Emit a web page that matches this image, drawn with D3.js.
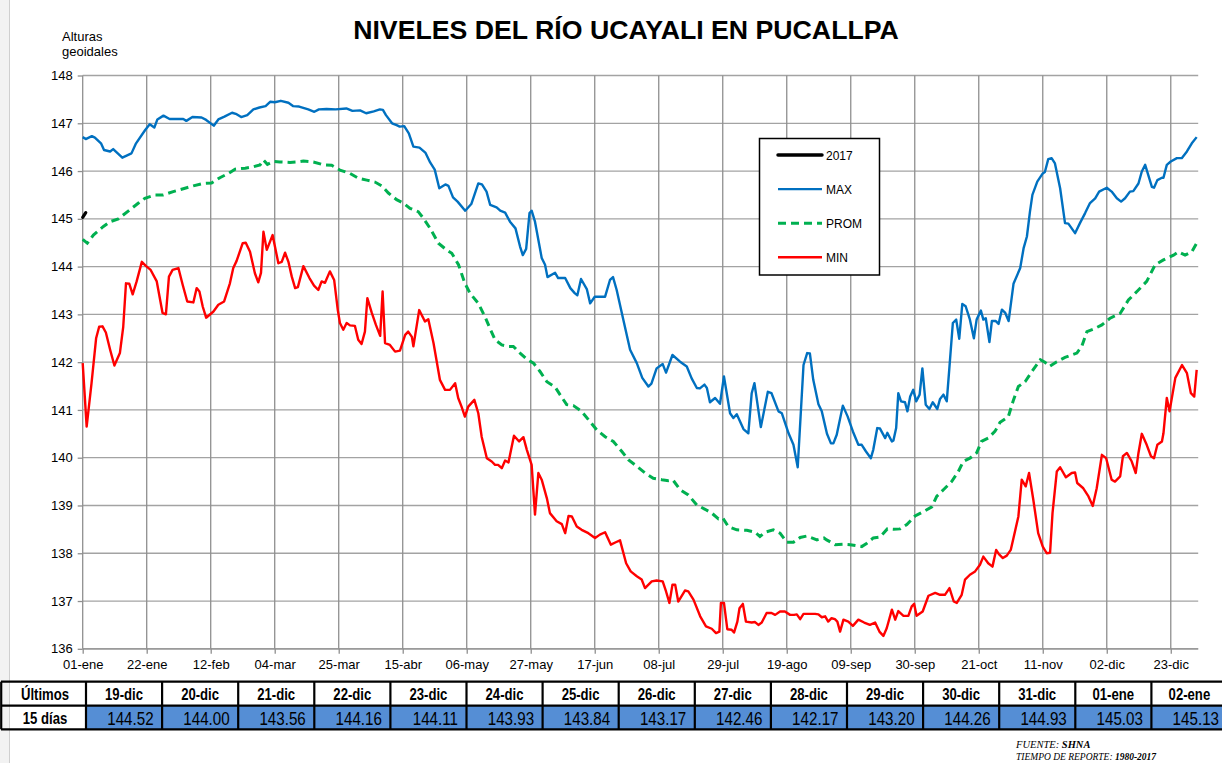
<!DOCTYPE html>
<html><head><meta charset="utf-8">
<script src="https://cdn.jsdelivr.net/npm/d3@7"></script>
<style>body{margin:0;background:#fff;} svg{display:block;font-family:"Liberation Sans",Arial,sans-serif;}</style>
</head><body><svg id="c" width="1222" height="763"></svg>
<script>
// ---- data ----
const xTickDays = [0,21,42,63,84,105,126,147,168,189,210,231,252,273,294,315,336,357];
const xTickLabels = ["01-ene","22-ene","12-feb","04-mar","25-mar","15-abr","06-may","27-may","17-jun","08-jul","29-jul","19-ago","09-sep","30-sep","21-oct","11-nov","02-dic","23-dic"];
const yTicks = [136,137,138,139,140,141,142,143,144,145,146,147,148];

const y2017Days = [0,1];
const y2017Vals = [145.03,145.13];

const maxDays = [0,1,3,4,6,7,9,10,13,16,17.5,20.5,22,23.5,24.5,26.5,28.5,33,34,36,39,40.5,43,44.5,46.5,49,50.5,52,54,56,58,60,61.5,63,65,67.5,69,71,74,76,77.5,80,83,86.5,88.5,91,93,95.5,97.5,98.5,99.5,101.5,103,104,105.5,107,108.5,110.5,112.5,114,115.5,117,119,120,121.5,123,125.5,127.5,129.8,131,132.5,133.7,135.8,137,138.6,140.2,142,143.5,144.4,145.5,146.6,147.3,148.4,150.6,151.7,152.5,155,156,158.3,160,161.5,162.3,163.5,165.4,166.5,168,171.4,173,174,175.2,177.4,179.6,181.8,183.6,185.6,186.6,188.3,190.3,191.4,193.5,196,198.2,199.8,201.5,202.5,204,204.8,205.8,207.5,209.1,210.4,212.4,213.5,214.6,216.8,218.4,219.5,220.4,222.5,224.8,226,228.3,229.4,231.6,233.2,234.6,236.5,237.7,238.6,239.7,241.4,242.5,244.2,245.5,246.3,247.4,249.4,251,252.7,254.5,255.6,257,258.6,259.4,260.7,261.6,263.3,264,265.5,266,266.9,267.6,268.5,269.8,270.6,271.5,272.5,273.5,274.6,275.5,276.6,277.8,278.9,280.4,281.3,282.4,283.5,284.4,285.5,286.6,287.6,288.6,289.7,291.1,292.4,293.3,294.7,295.5,296.3,297.5,298.3,299.6,300.5,301.6,302.7,303.8,305.4,307.6,308.7,309.8,310.8,311.6,313.2,315,315.7,316.8,317.9,319,320.7,322.3,323.4,325.6,327.2,328.9,330.5,332.2,333.5,336,337.6,339.3,340.7,342,343.6,344.7,346.4,347.5,348.6,349.6,350.8,351.5,352.6,354.1,354.6,355.7,357,359,360.6,362.3,363.9,365.5];
const maxVals = [146.71,146.67,146.73,146.70,146.58,146.44,146.41,146.46,146.28,146.37,146.58,146.86,146.98,146.91,147.08,147.16,147.09,147.09,147.05,147.13,147.12,147.07,146.95,147.08,147.14,147.22,147.19,147.13,147.17,147.29,147.33,147.36,147.45,147.44,147.47,147.43,147.36,147.35,147.29,147.24,147.29,147.30,147.29,147.31,147.26,147.27,147.21,147.25,147.29,147.28,147.17,147.00,146.96,146.93,146.94,146.79,146.51,146.49,146.38,146.18,146.03,145.64,145.72,145.69,145.45,145.36,145.17,145.31,145.74,145.72,145.57,145.29,145.24,145.17,145.13,144.94,144.80,144.42,144.24,144.37,145.12,145.17,144.94,144.18,144.04,143.78,143.87,143.76,143.76,143.55,143.44,143.40,143.74,143.53,143.23,143.37,143.37,143.72,143.78,143.51,142.88,142.26,141.98,141.67,141.49,141.55,141.87,141.96,141.78,142.15,142.01,141.91,141.66,141.46,141.45,141.53,141.46,141.16,141.25,141.13,141.70,140.93,140.83,140.91,140.60,140.51,141.35,141.56,140.64,141.38,141.35,140.97,140.93,140.51,140.27,139.80,141.94,142.19,142.18,141.63,141.12,140.97,140.50,140.30,140.30,140.48,141.09,140.86,140.55,140.27,140.27,140.13,139.99,140.17,140.62,140.61,140.41,140.52,140.34,140.36,140.62,141.35,141.18,141.16,140.97,141.28,141.42,141.18,141.32,141.87,141.11,141.02,141.16,141.02,141.23,141.32,141.18,141.91,142.82,142.89,142.49,143.22,143.17,142.89,142.50,142.89,143.08,142.89,142.92,142.42,142.86,142.86,142.80,143.10,143.03,142.86,143.64,143.97,144.38,144.63,145.15,145.50,145.78,145.95,145.98,146.25,146.27,146.16,145.64,144.91,144.90,144.70,144.91,145.12,145.33,145.43,145.57,145.65,145.57,145.43,145.36,145.43,145.57,145.58,145.74,145.99,146.13,145.92,145.67,145.65,145.81,145.86,145.86,146.13,146.20,146.27,146.27,146.41,146.58,146.71];

const promDays = [0,1.5,3.5,6.8,9,11.7,13.3,16.1,18.3,20.4,23.7,26.4,29.7,33,36.3,39.6,42.3,45,47.8,50,53.3,56,58.2,59.3,60.6,62.5,64.7,68,70.2,72.4,75.7,79,81.7,84.4,87.7,90.4,93.2,95.9,98.1,100.3,103,105.2,107.4,110.1,111.8,114,116.7,119.4,121.1,123.3,125.4,127.1,129.8,132,133.6,135.3,137.5,139.7,141.3,143.5,145.7,147.9,150.1,152.3,155,156.6,158.8,161,163.7,166.4,168.7,171.4,174.1,176.9,179,181.8,184.5,187.2,190,192.2,193.7,196,198.7,201.5,204.2,206.4,208.6,210,211.8,214.6,217.9,220.6,222.2,223.9,226.6,228.8,231,233.2,235.4,237.6,240.9,243.2,244.1,246.9,249.6,251.8,255.6,257.3,259.4,261.6,264,266,268.2,270.4,273.1,275.8,278.6,280.2,282.4,285.1,287.3,288.9,291.1,293.3,294.9,297.1,299.3,301,303.7,305.4,307,309.2,311.4,314.2,315.7,317.2,319.6,322.3,326.2,327.8,329.5,331.6,334.4,337.1,340.4,343.1,345.9,349.1,351.9,354.6,357.9,359.5,361.7,363.9,365.5];
const promVals = [144.57,144.49,144.66,144.84,144.94,145.00,145.08,145.22,145.33,145.43,145.50,145.50,145.57,145.63,145.69,145.74,145.75,145.86,145.95,146.04,146.06,146.09,146.13,146.23,146.14,146.20,146.19,146.18,146.19,146.21,146.19,146.13,146.12,146.02,145.95,145.85,145.81,145.77,145.69,145.54,145.40,145.33,145.22,145.15,145.01,144.80,144.49,144.35,144.28,144.04,143.65,143.44,143.23,142.95,142.71,142.47,142.36,142.33,142.33,142.19,142.06,141.98,141.80,141.59,141.48,141.32,141.11,141.09,140.97,140.76,140.58,140.44,140.34,140.13,139.96,139.82,139.68,139.57,139.54,139.52,139.53,139.33,139.22,139.01,138.92,138.84,138.72,138.74,138.56,138.49,138.48,138.44,138.35,138.44,138.49,138.42,138.23,138.23,138.33,138.36,138.28,138.32,138.28,138.18,138.19,138.18,138.14,138.21,138.32,138.34,138.51,138.50,138.51,138.60,138.78,138.87,138.97,139.19,139.33,139.50,139.71,139.92,139.99,140.10,140.34,140.41,140.55,140.74,140.86,141.21,141.49,141.59,141.80,142.05,142.00,141.91,142.01,142.10,142.19,142.33,142.64,142.69,142.78,142.92,143.02,143.30,143.48,143.69,144.04,144.14,144.24,144.31,144.24,144.31,144.49];

const minDays = [0,1.3,2.9,4.4,5.4,6.5,7.6,9,10.4,12.2,13.3,14.2,15.3,16.4,17.7,19.4,20.8,22.3,24.3,26.2,27.3,28.3,29.5,31.4,32.8,34.3,36.3,37.4,38.3,39.4,40.5,42.9,44.5,46.4,48.3,49.4,50.5,52.5,53.5,54.9,56.5,57.6,58.5,59.3,60.4,62.3,64.2,65.3,66.4,67.5,68.6,69.7,70.6,72.4,74.4,75.9,77.3,78.4,79.5,81.1,82.5,83.7,84.4,85.5,86.6,87.7,89.3,90.4,91.5,92.6,93.4,94.8,96.2,97.6,98.4,99.2,100.8,102.5,104.1,105.8,106.8,108,108.5,110.4,112.3,113.4,115.1,117.2,118.9,120.5,122.2,123.2,124.3,125.4,126.5,128.5,129.8,130.9,132.6,134.2,135.3,136.3,137.5,138.6,139.7,141.5,143.2,144.6,145.7,147.3,148.4,149.5,150.6,152.3,153.3,155.5,157.2,158.3,159.4,160.5,162.1,163.7,165.9,168.1,169.7,171.4,173.3,174.9,176.3,178.3,179.8,181.8,183.4,184.5,186.7,188.3,190.3,191.4,192.5,193.5,194.4,195.4,197.6,198.7,200.4,202.6,204.5,206.4,207.8,208.9,209.4,210.4,211.5,212.9,213.7,214.8,215.5,216.6,217.6,219.5,220.6,221.7,222.8,224.4,226,227.2,228.8,230.4,232.1,233.4,234.3,235.4,236.5,238.1,240.3,241.4,242.5,243.6,244.6,245.7,246.8,247.6,248.5,249.6,251.2,252.7,254.5,256.4,258.3,260,261.4,262.7,263.8,265.5,266.6,267.6,269.3,270.9,272,272.8,273.6,275.6,277.5,279.7,281.3,282.9,284.4,285.8,286.8,288.4,289.5,291.1,292.8,294.4,295.5,297.1,298.5,299.7,300.6,301.9,303.2,304.5,305.9,307,308.1,309.4,310.5,311.9,313.5,315,316.3,317.4,318.2,319.6,320.7,322.6,324.5,325.6,326.3,328.3,330,331.4,332.7,334.4,335.8,337.6,338.7,340.4,341.3,342.6,344.2,345.5,346.4,347.5,349.1,350.5,351.5,352.6,354.1,354.6,355.7,356.6,358.5,360.7,362.3,363.6,364.7,365.5];
const minVals = [141.98,140.65,141.56,142.50,142.74,142.75,142.62,142.26,141.93,142.19,142.74,143.65,143.64,143.42,143.69,144.10,144.01,143.93,143.69,143.03,143.00,143.79,143.93,143.97,143.62,143.27,143.25,143.55,143.48,143.16,142.93,143.06,143.20,143.27,143.65,143.97,144.12,144.49,144.50,144.31,143.86,143.67,143.87,144.73,144.35,144.66,144.07,144.10,144.29,144.10,143.79,143.55,143.57,144.01,143.76,143.60,143.51,143.69,143.66,143.90,143.72,143.09,142.82,142.68,142.82,142.77,142.76,142.47,142.38,142.64,143.34,143.04,142.78,142.55,143.48,142.40,142.36,142.22,142.24,142.57,142.64,142.53,142.33,143.09,142.85,142.90,142.40,141.63,141.42,141.42,141.56,141.25,141.07,140.86,141.07,141.21,140.93,140.44,139.99,139.92,139.85,139.85,139.78,139.94,139.90,140.46,140.34,140.43,140.17,139.85,138.81,139.68,139.54,139.15,138.84,138.67,138.61,138.42,138.78,138.77,138.56,138.49,138.42,138.32,138.39,138.44,138.18,138.23,138.27,137.79,137.62,137.52,137.45,137.27,137.41,137.43,137.41,137.20,136.96,137.34,137.34,136.99,137.22,137.20,137.03,136.68,136.47,136.42,136.33,136.36,136.96,136.96,136.41,136.40,136.34,136.57,136.85,136.94,136.57,136.55,136.56,136.50,136.55,136.75,136.75,136.71,136.78,136.78,136.71,136.71,136.72,136.62,136.73,136.73,136.73,136.72,136.66,136.68,136.57,136.64,136.62,136.57,136.36,136.61,136.57,136.48,136.61,136.55,136.50,136.55,136.36,136.27,136.43,136.82,136.61,136.79,136.69,136.69,136.89,136.94,136.69,136.78,137.11,137.17,137.13,137.13,137.27,136.99,136.96,137.13,137.45,137.55,137.62,137.76,137.93,137.79,137.72,138.07,137.98,137.90,137.95,138.07,138.46,138.77,139.54,139.40,139.68,139.12,138.42,138.14,138.00,138.01,138.84,139.71,139.80,139.59,139.68,139.69,139.47,139.36,139.19,138.99,139.36,140.06,139.99,139.54,139.50,139.61,140.03,140.10,139.92,139.68,140.10,140.50,140.27,140.03,139.99,140.27,140.34,140.51,141.25,140.97,141.67,141.94,141.77,141.35,141.28,141.84];

const legendLabels = ["2017","MAX","PROM","MIN"];
const tableDates = ["19-dic","20-dic","21-dic","22-dic","23-dic","24-dic","25-dic","26-dic","27-dic","28-dic","29-dic","30-dic","31-dic","01-ene","02-ene"];
const tableValues = [144.52,144.00,143.56,144.16,144.11,143.93,143.84,143.17,142.46,142.17,143.20,144.26,144.93,145.03,145.13];

// ---- drawing ----
const svg = d3.select("#c");
svg.append("rect").attr("width",1222).attr("height",763).attr("fill","#fff");
svg.append("rect").attr("x",0).attr("y",0).attr("width",9).attr("height",763).attr("fill","#f2f2f2");
svg.append("line").attr("x1",9.5).attr("x2",9.5).attr("y1",0).attr("y2",763).attr("stroke","#cfcfcf");

const x = d3.scaleLinear().domain([0,366]).range([82.7,1198.2]);
const y = d3.scaleLinear().domain([136,148]).range([648.8,75.5]);

// grid
const g = svg.append("g");
g.selectAll(".hg").data(yTicks).join("line")
  .attr("x1",x(0)).attr("x2",x(366)).attr("y1",d=>y(d)).attr("y2",d=>y(d))
  .attr("stroke","#a3a3a3").attr("stroke-width",1.3);
g.selectAll(".vg").data(xTickDays.slice(1)).join("line")
  .attr("x1",d=>x(d)).attr("x2",d=>x(d)).attr("y1",y(148)).attr("y2",y(136))
  .attr("stroke","#8f8f8f").attr("stroke-width",1.3);

// axes
const yAxis = d3.axisLeft(y).tickValues(yTicks).tickSize(5).tickPadding(5).tickFormat(d3.format("d"));
const ya = svg.append("g").attr("transform",`translate(${x(0)},0)`).call(yAxis);
const xAxis = d3.axisBottom(x).tickValues(xTickDays).tickSize(5).tickPadding(6).tickFormat((d,i)=>xTickLabels[i]);
const xa = svg.append("g").attr("transform",`translate(0,${y(136)})`).call(xAxis);
[ya,xa].forEach(a=>{
  a.select(".domain").attr("stroke","#8f8f8f").attr("stroke-width",1.3);
  a.selectAll(".tick line").attr("stroke","#8f8f8f").attr("stroke-width",1.3);
  a.selectAll("text").attr("font-size",13).attr("fill","#000").attr("font-family","Liberation Sans, Arial, sans-serif");
});
xa.select(".domain").attr("d",`M${x(0)},0H${x(366)}`);
ya.select(".domain").attr("d",`M0,${y(148)}V${y(136)}`);

// lines
function series(days, vals){ return days.map((d,i)=>({d, v:vals[i]})); }
const line = d3.line().x(p=>x(p.d)).y(p=>y(p.v));
svg.append("path").datum(series(promDays,promVals)).attr("d",line)
  .attr("fill","none").attr("stroke","#00B050").attr("stroke-width",3).attr("stroke-dasharray","8,5");
svg.append("path").datum(series(maxDays,maxVals)).attr("d",line)
  .attr("fill","none").attr("stroke","#0070C0").attr("stroke-width",2.4).attr("stroke-linejoin","round");
svg.append("path").datum(series(minDays,minVals)).attr("d",line)
  .attr("fill","none").attr("stroke","#FF0000").attr("stroke-width",2.4).attr("stroke-linejoin","round");
svg.append("path").datum(series(y2017Days,y2017Vals)).attr("d",line)
  .attr("fill","none").attr("stroke","#000").attr("stroke-width",3.2).attr("stroke-linecap","round");

// title & axis label
svg.append("text").attr("x",626).attr("y",39).attr("text-anchor","middle")
  .attr("font-size",26.7).attr("font-weight","bold").text("NIVELES DEL RÍO UCAYALI EN PUCALLPA");
svg.append("text").attr("x",62).attr("y",41).attr("font-size",13).text("Alturas");
svg.append("text").attr("x",62).attr("y",56).attr("font-size",13).text("geoidales");

// legend
const lg = svg.append("g");
lg.append("rect").attr("x",759.5).attr("y",138.5).attr("width",120).attr("height",136.5)
  .attr("fill","#fff").attr("stroke","#000").attr("stroke-width",1.5);
const lStyles = [
  {c:"#000",w:3.5,dash:null},
  {c:"#0070C0",w:2.4,dash:null},
  {c:"#00B050",w:3,dash:"8,5"},
  {c:"#FF0000",w:2.4,dash:null}
];
legendLabels.forEach((lab,i)=>{
  const yy = 155 + i*34.1;
  const l = lg.append("line").attr("x1",778).attr("x2",822).attr("y1",yy).attr("y2",yy)
    .attr("stroke",lStyles[i].c).attr("stroke-width",lStyles[i].w);
  if(lStyles[i].dash) l.attr("stroke-dasharray",lStyles[i].dash);
  if(i===0) l.attr("stroke-linecap","round");
  lg.append("text").attr("x",826).attr("y",yy+4.5).attr("font-size",12).text(lab);
});

// table
const tb = svg.append("g");
const colX = d3.scaleLinear().domain([0,15]).range([86,86+15*76.1]);
const tTop = 681.7, tMid = 705.7, tBot = 729.3;
tb.selectAll(".cell").data(tableValues).join("rect")
  .attr("x",(d,i)=>colX(i)).attr("y",tMid).attr("width",76.1).attr("height",tBot-tMid).attr("fill","#558ED5");
const bcol="#000", bw=2.2;
[tTop,tMid,tBot].forEach(yy=>tb.append("line").attr("x1",1).attr("x2",1230).attr("y1",yy).attr("y2",yy).attr("stroke",bcol).attr("stroke-width",bw));
tb.append("line").attr("x1",1.2).attr("x2",1.2).attr("y1",tTop).attr("y2",tBot).attr("stroke",bcol).attr("stroke-width",bw);
tb.selectAll(".vb").data(d3.range(16)).join("line")
  .attr("x1",i=>colX(i)).attr("x2",i=>colX(i)).attr("y1",tTop).attr("y2",tBot).attr("stroke",bcol).attr("stroke-width",bw);
function narrow(gx, gy, txt, opts){
  const t = tb.append("text").attr("transform",`translate(${gx},${gy}) scale(0.82,1)`)
    .attr("text-anchor",opts.anchor).attr("font-size",opts.size).text(txt);
  if(opts.bold) t.attr("font-weight","bold");
  return t;
}
narrow(45, 700, "Últimos", {anchor:"middle", size:16, bold:true});
narrow(45, 724, "15 días", {anchor:"middle", size:16, bold:true});
tableDates.forEach((dt,i)=>narrow(colX(i)+38, 700, dt, {anchor:"middle", size:16, bold:true}));
tableValues.forEach((v,i)=>narrow(colX(i+1)-8.5, 724.5, v.toFixed(2), {anchor:"end", size:18.5, bold:false}));

// footnote
const fn = svg.append("text").attr("x",1016).attr("y",747.5).attr("font-family","Liberation Serif, Times New Roman, serif")
  .attr("font-style","italic").attr("font-size",10.5);
fn.append("tspan").text("FUENTE: ");
fn.append("tspan").attr("font-weight","bold").text("SHNA");
const fn2 = svg.append("text").attr("x",1016).attr("y",760).attr("font-family","Liberation Serif, Times New Roman, serif")
  .attr("font-style","italic").attr("font-size",9.5);
fn2.append("tspan").text("TIEMPO DE REPORTE: ");
fn2.append("tspan").attr("font-weight","bold").text("1980-2017");
</script></body></html>
